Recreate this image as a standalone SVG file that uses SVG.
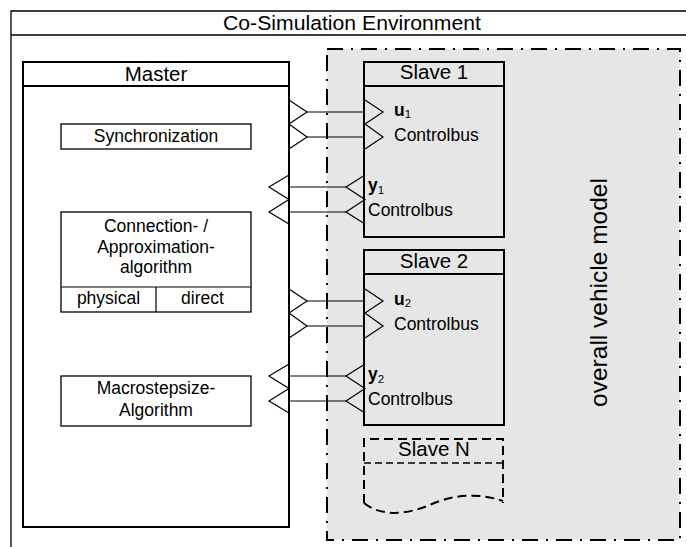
<svg xmlns="http://www.w3.org/2000/svg" width="686" height="547" viewBox="0 0 686 547">
<style>
text{font-family:"Liberation Sans",Arial,sans-serif;fill:#000}
.t{font-size:17.5px}
.h{font-size:20.5px}
.c{text-anchor:middle}
.b{font-weight:bold}
.sub{font-size:11.5px;font-weight:normal}
.box{fill:none;stroke:#000;stroke-width:2}
.sbox{fill:#fff;stroke:#000;stroke-width:1.3}
.ln{fill:none;stroke:#000;stroke-width:1.2}
</style>
<rect width="686" height="547" fill="#fff"/>
<g id="frame">
<path d="M11,547 V11 H686 M11,35 H686" fill="none" stroke="#000" stroke-width="1.3"/>
<text class="c" x="352" y="30" font-size="20.5" textLength="258" lengthAdjust="spacingAndGlyphs">Co-Simulation Environment</text>
</g>
<g id="vehicle-model">
<rect x="327" y="49" width="353" height="491" fill="#e6e6e6" stroke="#000" stroke-width="2" stroke-dasharray="16 8 2 8"/>
<text class="c" transform="translate(607,292.5) rotate(-90)" font-size="24.5">overall vehicle model</text>
</g>
<g id="master">
<rect class="box" x="23" y="62" width="266" height="465" fill="#fff"/>
<line class="box" x1="23" y1="86" x2="289" y2="86"/>
<text class="h c" x="156" y="81">Master</text>
</g>
<g id="synchronization">
<rect class="sbox" x="61" y="124" width="190" height="25"/>
<text class="t c" x="156" y="142">Synchronization</text>
</g>
<g id="connection-algorithm">
<rect class="sbox" x="61" y="212" width="190" height="100"/>
<path class="ln" d="M61,287 H251 M156,287 V312" stroke-width="1.3"/>
<text class="t c" x="156" y="232">Connection- /</text>
<text class="t c" x="156" y="253">Approximation-</text>
<text class="t c" x="156" y="273">algorithm</text>
<text class="t c" x="108.5" y="304">physical</text>
<text class="t c" x="202.5" y="304">direct</text>
</g>
<g id="macrostepsize">
<rect class="sbox" x="61" y="376" width="190" height="50"/>
<text class="t c" x="156" y="394">Macrostepsize-</text>
<text class="t c" x="156" y="416">Algorithm</text>
</g>
<g id="slave1">
<rect class="box" x="364" y="62" width="140" height="175"/>
<line class="box" x1="364" y1="86" x2="504" y2="86"/>
<text class="h c" x="434" y="79">Slave 1</text>
<text class="t b" x="394" y="116">u<tspan class="sub" dy="2">1</tspan></text>
<text class="t" x="394" y="141">Controlbus</text>
<text class="t b" x="368" y="191">y<tspan class="sub" dy="3">1</tspan></text>
<text class="t" x="368" y="216">Controlbus</text>
</g>
<g id="slave2">
<rect class="box" x="364" y="250" width="140" height="175"/>
<line class="box" x1="364" y1="274" x2="504" y2="274"/>
<text class="h c" x="434" y="268">Slave 2</text>
<text class="t b" x="394" y="305">u<tspan class="sub" dy="2">2</tspan></text>
<text class="t" x="394" y="330">Controlbus</text>
<text class="t b" x="368" y="380">y<tspan class="sub" dy="3">2</tspan></text>
<text class="t" x="368" y="405">Controlbus</text>
</g>
<g id="slaveN">
<path d="M364,503 V439 H503 V503" fill="none" stroke="#000" stroke-width="2" stroke-dasharray="9 5"/>
<path d="M364,503 C380,516 405,516 432,504 C455,494 480,493 503,501" fill="none" stroke="#000" stroke-width="2" stroke-dasharray="9 5"/>
<line x1="364" y1="463" x2="503" y2="463" stroke="#000" stroke-width="1.6" stroke-dasharray="7 4"/>
<text class="h c" x="434" y="456">Slave N</text>
</g>
<g id="connectors" class="ln">
<path d="M289,100 L307,112 L289,124 L307,137 L289,149"/>
<path d="M365,100 L383,112 L365,124 L383,137 L365,149"/>
<path d="M307,112 H365 M307,137 H365"/>
<path d="M289,175 L269,187 L289,199.5 L269,212 L289,224"/>
<path d="M365,175 L346,187 L365,199.5 L346,212 L365,224"/>
<path d="M289,187 H346 M289,212 H346"/>
<path d="M289,289 L307,301 L289,313 L307,326 L289,338"/>
<path d="M365,289 L383,301 L365,313 L383,326 L365,338"/>
<path d="M307,301 H365 M307,326 H365"/>
<path d="M289,364 L269,376 L289,388.5 L269,401 L289,413"/>
<path d="M365,364 L346,376 L365,388.5 L346,401 L365,413"/>
<path d="M289,376 H346 M289,401 H346"/>
</g>
</svg>
